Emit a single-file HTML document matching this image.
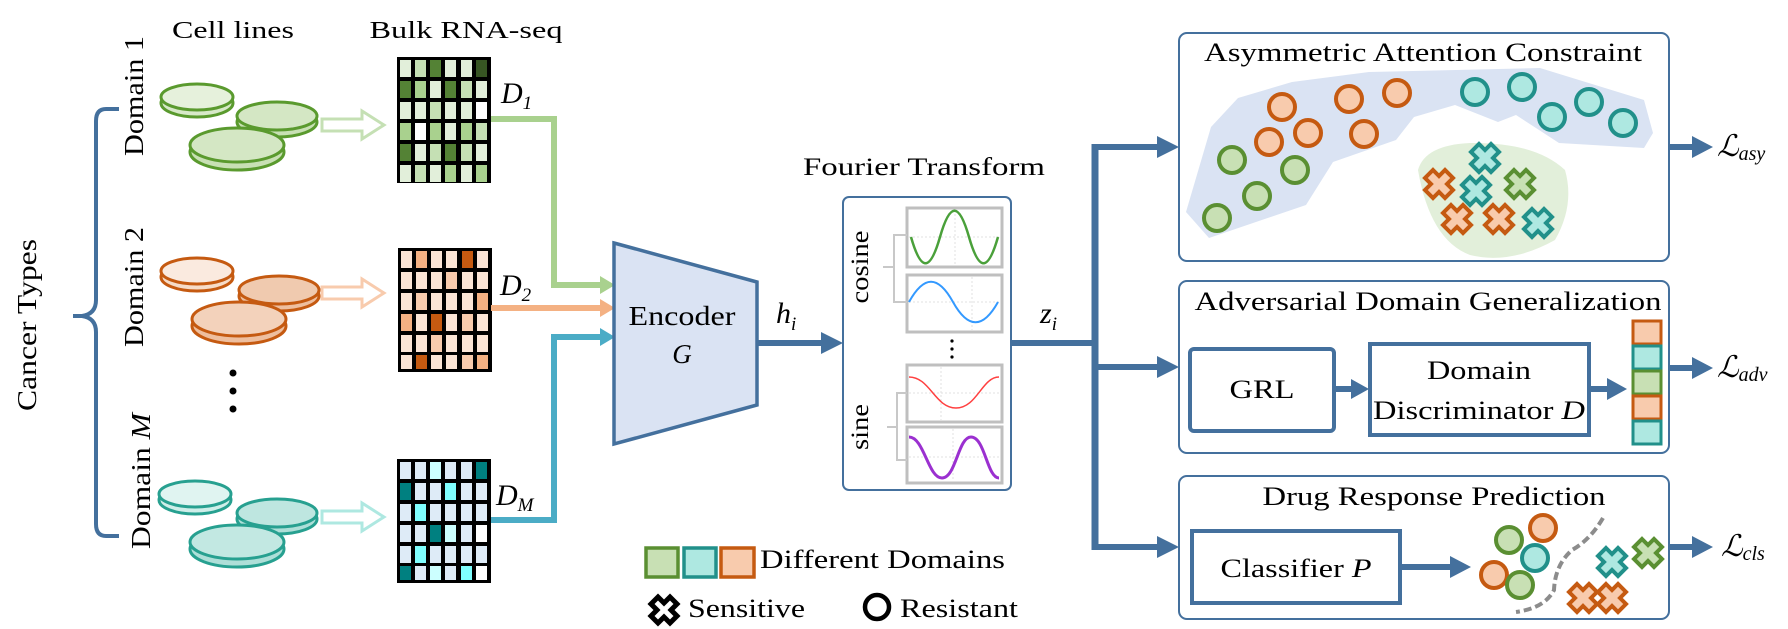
<!DOCTYPE html>
<html><head><meta charset="utf-8"><style>
html,body{margin:0;padding:0;background:#fff;}
svg{display:block;font-family:"Liberation Serif","Times New Roman","DejaVu Serif",serif;}
svg text{font-family:"Liberation Serif","Times New Roman","DejaVu Serif",serif;fill:#000;}
</style></head><body>
<svg width="1788" height="629" viewBox="0 0 1788 629" xmlns="http://www.w3.org/2000/svg" font-family="Liberation Serif, Times New Roman, DejaVu Serif, serif">

<!-- Headers -->
<text x="233" y="38" font-size="24" text-anchor="middle" textLength="122" lengthAdjust="spacingAndGlyphs">Cell lines</text>
<text x="466" y="38" font-size="24" text-anchor="middle" textLength="193" lengthAdjust="spacingAndGlyphs">Bulk RNA-seq</text>

<!-- Brace -->
<path d="M119,109 L106,109 Q96,109 96,121 L96,300 Q96,314 82,316 L73,316 L82,316 Q96,318 96,332 L96,524 Q96,536 106,536 L119,536" fill="none" stroke="#44709d" stroke-width="4"/>
<text transform="translate(36,325) rotate(-90)" font-size="27" text-anchor="middle" textLength="172" lengthAdjust="spacingAndGlyphs">Cancer Types</text>
<text transform="translate(143,96) rotate(-90)" font-size="27" text-anchor="middle" textLength="120" lengthAdjust="spacingAndGlyphs">Domain 1</text>
<text transform="translate(143,287) rotate(-90)" font-size="27" text-anchor="middle" textLength="120" lengthAdjust="spacingAndGlyphs">Domain 2</text>
<text transform="translate(150,481) rotate(-90)" font-size="27" text-anchor="middle" textLength="136" lengthAdjust="spacingAndGlyphs">Domain <tspan font-style="italic">M</tspan></text>

<!-- Dishes -->
<g stroke="#5a9a2e" stroke-width="3">
  <ellipse cx="197" cy="103" rx="36" ry="14" fill="#d7e9c8"/><ellipse cx="197" cy="97" rx="36" ry="13" fill="#e6f1dc"/>
  <ellipse cx="277" cy="122" rx="40" ry="15" fill="#c8e0b4"/><ellipse cx="277" cy="116" rx="40" ry="14" fill="#d4e7c4"/>
  <ellipse cx="237" cy="152" rx="47" ry="18" fill="#c8e0b4"/><ellipse cx="237" cy="145" rx="47" ry="17" fill="#d4e7c4"/>
</g>
<g stroke="#c55a11" stroke-width="3">
  <ellipse cx="197" cy="277" rx="36" ry="14" fill="#f6dcc8"/><ellipse cx="197" cy="271" rx="36" ry="13" fill="#faeadf"/>
  <ellipse cx="279" cy="296" rx="40" ry="15" fill="#eebf9f"/><ellipse cx="279" cy="290" rx="40" ry="14" fill="#f0caaf"/>
  <ellipse cx="239" cy="326" rx="47" ry="18" fill="#eebf9f"/><ellipse cx="239" cy="319" rx="47" ry="17" fill="#f3d2bb"/>
</g>
<g stroke="#27a090" stroke-width="3">
  <ellipse cx="195" cy="500" rx="36" ry="14" fill="#cfeee9"/><ellipse cx="195" cy="494" rx="36" ry="13" fill="#e0f4f1"/>
  <ellipse cx="277" cy="519" rx="40" ry="15" fill="#aedfd8"/><ellipse cx="277" cy="513" rx="40" ry="14" fill="#bee6e0"/>
  <ellipse cx="237" cy="549" rx="47" ry="18" fill="#aedfd8"/><ellipse cx="237" cy="542" rx="47" ry="17" fill="#c2e8e2"/>
</g>
<circle cx="233" cy="373" r="3.5" fill="#000"/><circle cx="233" cy="391" r="3.5" fill="#000"/><circle cx="233" cy="409" r="3.5" fill="#000"/>

<!-- hollow arrows -->
<path d="M322,119 H362 V111 L384,125 L362,139 V131 H322 Z" fill="#fff" stroke="#c5e0b4" stroke-width="3"/>
<path d="M322,287 H362 V279 L384,293 L362,307 V299 H322 Z" fill="#fff" stroke="#f8cbad" stroke-width="3"/>
<path d="M322,511 H362 V503 L384,517 L362,531 V523 H322 Z" fill="#fff" stroke="#aee8e1" stroke-width="3"/>

<!-- Matrices -->
<rect x="397" y="57" width="94" height="126" fill="#000"/>
<g transform="translate(397,57)">
<g fill="#e2efda">
<rect x="3" y="3" width="11" height="17"/><rect x="48" y="3" width="11" height="17"/><rect x="64" y="3" width="11" height="17"/>
<rect x="33" y="24" width="11" height="17"/><rect x="79" y="24" width="11" height="17"/>
<rect x="3" y="45" width="11" height="17"/><rect x="18" y="45" width="11" height="17"/><rect x="48" y="45" width="11" height="17"/><rect x="64" y="45" width="11" height="17"/>
<rect x="48" y="66" width="11" height="17"/>
<rect x="18" y="87" width="11" height="17"/><rect x="79" y="87" width="11" height="17"/>
<rect x="3" y="108" width="11" height="17"/><rect x="33" y="108" width="11" height="17"/><rect x="64" y="108" width="11" height="17"/>
</g>
<g fill="#c5e0b4">
<rect x="18" y="3" width="11" height="17"/><rect x="64" y="24" width="11" height="17"/><rect x="33" y="45" width="11" height="17"/>
<rect x="79" y="66" width="11" height="17"/><rect x="33" y="87" width="11" height="17"/><rect x="64" y="87" width="11" height="17"/><rect x="18" y="108" width="11" height="17"/>
</g>
<g fill="#a9d18e">
<rect x="18" y="24" width="11" height="17"/><rect x="3" y="66" width="11" height="17"/><rect x="33" y="66" width="11" height="17"/><rect x="64" y="66" width="11" height="17"/>
<rect x="48" y="108" width="11" height="17"/><rect x="79" y="108" width="11" height="17"/>
</g>
<g fill="#548235">
<rect x="33" y="3" width="11" height="17"/><rect x="3" y="24" width="11" height="17"/><rect x="48" y="24" width="11" height="17"/>
<rect x="3" y="87" width="11" height="17"/><rect x="48" y="87" width="11" height="17"/>
</g>
<rect x="79" y="3" width="11" height="17" fill="#375623"/>
<g fill="#fff"><rect x="79" y="45" width="11" height="17"/><rect x="18" y="66" width="11" height="17"/></g>
</g>

<rect x="398" y="248" width="94" height="124" fill="#000"/>
<g transform="translate(398,248)">
<g fill="#fbe5d6">
<rect x="3" y="3" width="11" height="17"/><rect x="33" y="3" width="11" height="17"/><rect x="48" y="3" width="11" height="17"/><rect x="79" y="3" width="11" height="17"/>
<rect x="3" y="24" width="11" height="17"/><rect x="18" y="24" width="11" height="17"/><rect x="33" y="24" width="11" height="17"/><rect x="64" y="24" width="11" height="17"/><rect x="79" y="24" width="11" height="17"/>
<rect x="3" y="45" width="11" height="17"/><rect x="33" y="45" width="11" height="17"/><rect x="48" y="45" width="11" height="17"/><rect x="64" y="45" width="11" height="17"/>
<rect x="18" y="66" width="11" height="17"/><rect x="48" y="66" width="11" height="17"/><rect x="79" y="66" width="11" height="17"/>
<rect x="3" y="87" width="11" height="17"/><rect x="18" y="87" width="11" height="17"/><rect x="48" y="87" width="11" height="17"/><rect x="64" y="87" width="11" height="17"/><rect x="79" y="87" width="11" height="17"/>
<rect x="3" y="107" width="11" height="14"/><rect x="33" y="107" width="11" height="14"/><rect x="48" y="107" width="11" height="14"/>
</g>
<g fill="#f8cbad">
<rect x="48" y="24" width="11" height="17"/><rect x="18" y="45" width="11" height="17"/><rect x="64" y="66" width="11" height="17"/><rect x="33" y="87" width="11" height="17"/><rect x="64" y="107" width="11" height="14"/>
</g>
<g fill="#f4b183">
<rect x="18" y="3" width="11" height="17"/><rect x="79" y="45" width="11" height="17"/><rect x="3" y="66" width="11" height="17"/><rect x="79" y="107" width="11" height="14"/>
</g>
<g fill="#c55a11">
<rect x="64" y="3" width="11" height="17"/><rect x="33" y="66" width="11" height="17"/><rect x="18" y="107" width="11" height="14"/>
</g>
</g>

<rect x="397" y="459" width="94" height="124" fill="#000"/>
<g transform="translate(397,459)">
<g fill="#deebf7">
<rect x="3" y="3" width="11" height="17"/><rect x="18" y="3" width="11" height="17"/><rect x="48" y="3" width="11" height="17"/><rect x="64" y="3" width="11" height="17"/>
<rect x="18" y="24" width="11" height="17"/><rect x="33" y="24" width="11" height="17"/><rect x="64" y="24" width="11" height="17"/><rect x="79" y="24" width="11" height="17"/>
<rect x="3" y="45" width="11" height="17"/><rect x="33" y="45" width="11" height="17"/><rect x="48" y="45" width="11" height="17"/><rect x="64" y="45" width="11" height="17"/><rect x="79" y="45" width="11" height="17"/>
<rect x="3" y="66" width="11" height="17"/><rect x="18" y="66" width="11" height="17"/><rect x="64" y="66" width="11" height="17"/>
<rect x="3" y="87" width="11" height="17"/><rect x="33" y="87" width="11" height="17"/><rect x="48" y="87" width="11" height="17"/><rect x="64" y="87" width="11" height="17"/><rect x="79" y="87" width="11" height="17"/>
<rect x="18" y="107" width="11" height="14"/><rect x="48" y="107" width="11" height="14"/>
</g>
<g fill="#ccffff"><rect x="33" y="3" width="11" height="17"/><rect x="48" y="66" width="11" height="17"/><rect x="33" y="107" width="11" height="14"/></g>
<g fill="#7fffff"><rect x="48" y="24" width="11" height="17"/><rect x="18" y="45" width="11" height="17"/><rect x="18" y="87" width="11" height="17"/><rect x="64" y="107" width="11" height="14"/></g>
<g fill="#008080"><rect x="79" y="3" width="11" height="17"/><rect x="3" y="24" width="11" height="17"/><rect x="33" y="66" width="11" height="17"/><rect x="3" y="107" width="11" height="14"/></g>
<g fill="#fff"><rect x="79" y="66" width="11" height="17"/><rect x="79" y="107" width="11" height="14"/></g>
</g>

<text x="501" y="103" font-size="30" font-style="italic">D<tspan font-size="19" dy="6">1</tspan></text>
<text x="500" y="295" font-size="30" font-style="italic">D<tspan font-size="19" dy="6">2</tspan></text>
<text x="496" y="505" font-size="30" font-style="italic">D<tspan font-size="19" dy="6">M</tspan></text>

<path d="M491,119 H554 V285 H602" fill="none" stroke="#a9d18e" stroke-width="6"/>
<path d="M600,276 L615,285 L600,294 Z" fill="#a9d18e"/>
<path d="M491,308 H602" fill="none" stroke="#f4b183" stroke-width="6"/>
<path d="M600,299 L615,308 L600,317 Z" fill="#f4b183"/>
<path d="M491,520 H554 V337 H602" fill="none" stroke="#4bacc6" stroke-width="6"/>
<path d="M600,328 L615,337 L600,346 Z" fill="#4bacc6"/>

<!-- Encoder -->
<path d="M614,243 L757,282 L757,405 L614,444 Z" fill="#dae3f3" stroke="#44709d" stroke-width="3.5"/>
<text x="682" y="325" font-size="27" text-anchor="middle" textLength="107" lengthAdjust="spacingAndGlyphs">Encoder</text>
<text x="682" y="363" font-size="27" font-style="italic" text-anchor="middle">G</text>

<path d="M757,343 H825" stroke="#44709d" stroke-width="6"/>
<path d="M821,332 L843,343 L821,354 Z" fill="#44709d"/>
<text x="776" y="323" font-size="30" font-style="italic">h<tspan font-size="19" dy="7">i</tspan></text>

<!-- Fourier -->
<text x="924" y="175" font-size="25" text-anchor="middle" textLength="242" lengthAdjust="spacingAndGlyphs">Fourier Transform</text>
<rect x="843" y="197" width="168" height="293" rx="6" fill="#fff" stroke="#44709d" stroke-width="2"/>
<g fill="none" stroke="#bfbfbf" stroke-width="3">
<rect x="907" y="208" width="95" height="59"/>
<rect x="907" y="275" width="95" height="57"/>
<rect x="907" y="365" width="95" height="57"/>
<rect x="907" y="427" width="95" height="56"/>
</g>
<g fill="none" stroke="#c8c8c8" stroke-width="2">
<path d="M907,235 H894 V302 H907 M894,267 H883"/>
<path d="M907,393 H897 V460 H907 M897,427 H887"/>
</g>
<g fill="none" stroke="#e0e0e0" stroke-width="1" stroke-dasharray="2,2">
<path d="M909,237 H1000 M955,210 V265 M909,302 H1000 M972,277 V330 M909,393 H1000 M941,367 V420 M909,457 H1000 M953,429 V481"/>
</g>
<path d="M911,237 C921,272 930,272 940,237 C950,202 959,202 969,237 C979,272 988,272 998,237" fill="none" stroke="#4aa03a" stroke-width="2.5"/>
<path d="M909,302 C924,275 938,275 953,302 C968,329 983,329 998,302" fill="none" stroke="#3399ff" stroke-width="2"/>
<path d="M909,377 C930,377 935,408 956,408 C977,408 982,377 999,377" fill="none" stroke="#ff4040" stroke-width="1.5"/>
<path d="M909,437 C924,437 928,478 942,478 C956,478 958,437 971,437 C985,437 987,478 999,478" fill="none" stroke="#9b30d0" stroke-width="3"/>
<circle cx="952" cy="341" r="1.6" fill="#000"/><circle cx="952" cy="349" r="1.6" fill="#000"/><circle cx="952" cy="357" r="1.6" fill="#000"/>
<text transform="translate(868,267) rotate(-90)" font-size="25" text-anchor="middle" textLength="73" lengthAdjust="spacingAndGlyphs">cosine</text>
<text transform="translate(868,427) rotate(-90)" font-size="25" text-anchor="middle" textLength="46" lengthAdjust="spacingAndGlyphs">sine</text>

<!-- z_i and bus -->
<path d="M1011,343 H1095" stroke="#44709d" stroke-width="6"/>
<text x="1040" y="323" font-size="30" font-style="italic">z<tspan font-size="19" dy="7">i</tspan></text>
<path d="M1095,144 V550" stroke="#44709d" stroke-width="7"/>
<g stroke="#44709d" stroke-width="6">
<path d="M1095,147 H1162"/><path d="M1095,367 H1162"/><path d="M1095,547 H1162"/>
</g>
<g fill="#44709d">
<path d="M1157,136 L1179,147 L1157,158 Z"/><path d="M1157,356 L1179,367 L1157,378 Z"/><path d="M1157,536 L1179,547 L1157,558 Z"/>
</g>

<!-- Box 1 -->
<rect x="1179" y="33" width="490" height="228" rx="8" fill="#fff" stroke="#44709d" stroke-width="2"/>
<text x="1423" y="61" font-size="26" text-anchor="middle" textLength="438" lengthAdjust="spacingAndGlyphs">Asymmetric Attention Constraint</text>
<path d="M1186,212 L1211,127 L1238,98 L1292,82 L1369,72 L1540,68 L1644,100 L1653,133 L1644,148 L1559,143 L1516,115 L1498,122 L1455,105 L1414,117 L1396,140 L1333,162 L1306,205 L1209,238 Z" fill="#dae3f3"/>
<path d="M1418,170 Q1425,145 1470,143 Q1535,142 1565,170 Q1575,205 1555,240 Q1510,265 1470,255 Q1430,240 1418,170 Z" fill="#e2efda"/>
<g stroke-width="4">
<g fill="#f8cbad" stroke="#c55a11">
<circle cx="1282" cy="107" r="13"/><circle cx="1349" cy="99" r="13"/><circle cx="1397" cy="93" r="13"/><circle cx="1269" cy="142" r="13"/><circle cx="1308" cy="133" r="13"/><circle cx="1364" cy="134" r="13"/>
</g>
<g fill="#aee8e1" stroke="#21908a">
<circle cx="1475" cy="92" r="13"/><circle cx="1522" cy="87" r="13"/><circle cx="1552" cy="117" r="13"/><circle cx="1589" cy="102" r="13"/><circle cx="1623" cy="123" r="13"/>
</g>
<g fill="#c8e0b4" stroke="#5a8f32">
<circle cx="1232" cy="160" r="13"/><circle cx="1295" cy="170" r="13"/><circle cx="1257" cy="196" r="13"/><circle cx="1217" cy="218" r="13"/>
</g>
</g>
<g stroke-width="4">
<g fill="#aee8e1" stroke="#21908a">
<path transform="translate(1485,158)" d="M-6,-14 L0,-8 L6,-14 L14,-6 L8,0 L14,6 L6,14 L0,8 L-6,14 L-14,6 L-8,0 L-14,-6 Z"/>
<path transform="translate(1476,191)" d="M-6,-14 L0,-8 L6,-14 L14,-6 L8,0 L14,6 L6,14 L0,8 L-6,14 L-14,6 L-8,0 L-14,-6 Z"/>
<path transform="translate(1538,223)" d="M-6,-14 L0,-8 L6,-14 L14,-6 L8,0 L14,6 L6,14 L0,8 L-6,14 L-14,6 L-8,0 L-14,-6 Z"/>
</g>
<g fill="#f8cbad" stroke="#c55a11">
<path transform="translate(1439,184)" d="M-6,-14 L0,-8 L6,-14 L14,-6 L8,0 L14,6 L6,14 L0,8 L-6,14 L-14,6 L-8,0 L-14,-6 Z"/>
<path transform="translate(1457,219)" d="M-6,-14 L0,-8 L6,-14 L14,-6 L8,0 L14,6 L6,14 L0,8 L-6,14 L-14,6 L-8,0 L-14,-6 Z"/>
<path transform="translate(1499,219)" d="M-6,-14 L0,-8 L6,-14 L14,-6 L8,0 L14,6 L6,14 L0,8 L-6,14 L-14,6 L-8,0 L-14,-6 Z"/>
</g>
<g fill="#c8e0b4" stroke="#5a8f32">
<path transform="translate(1520,184)" d="M-6,-14 L0,-8 L6,-14 L14,-6 L8,0 L14,6 L6,14 L0,8 L-6,14 L-14,6 L-8,0 L-14,-6 Z"/>
</g>
</g>

<!-- Box 2 -->
<rect x="1179" y="281" width="490" height="172" rx="8" fill="#fff" stroke="#44709d" stroke-width="2"/>
<text x="1428" y="310" font-size="26" text-anchor="middle" textLength="467" lengthAdjust="spacingAndGlyphs">Adversarial Domain Generalization</text>
<rect x="1190" y="349" width="144" height="82" rx="4" fill="#fff" stroke="#44709d" stroke-width="4"/>
<text x="1262" y="398" font-size="26" text-anchor="middle" textLength="65" lengthAdjust="spacingAndGlyphs">GRL</text>
<path d="M1335,389 H1355" stroke="#44709d" stroke-width="6"/>
<path d="M1351,379 L1369,389 L1351,399 Z" fill="#44709d"/>
<rect x="1370" y="344" width="219" height="91" fill="#fff" stroke="#44709d" stroke-width="4"/>
<text x="1479" y="379" font-size="26" text-anchor="middle" textLength="104" lengthAdjust="spacingAndGlyphs">Domain</text>
<text x="1479" y="419" font-size="26" text-anchor="middle" textLength="212" lengthAdjust="spacingAndGlyphs">Discriminator <tspan font-style="italic">D</tspan></text>
<path d="M1591,389 H1612" stroke="#44709d" stroke-width="6"/>
<path d="M1607,378 L1627,389 L1607,400 Z" fill="#44709d"/>
<g stroke-width="3">
<rect x="1633" y="321" width="28" height="23" fill="#f8cbad" stroke="#c55a11"/>
<rect x="1633" y="346" width="28" height="23" fill="#aee8e1" stroke="#21908a"/>
<rect x="1633" y="371" width="28" height="23" fill="#c8e0b4" stroke="#5a8f32"/>
<rect x="1633" y="396" width="28" height="23" fill="#f8cbad" stroke="#c55a11"/>
<rect x="1633" y="421" width="28" height="23" fill="#aee8e1" stroke="#21908a"/>
</g>

<!-- Box 3 -->
<rect x="1179" y="476" width="490" height="143" rx="8" fill="#fff" stroke="#44709d" stroke-width="2"/>
<text x="1434" y="505" font-size="26" text-anchor="middle" textLength="343" lengthAdjust="spacingAndGlyphs">Drug Response Prediction</text>
<rect x="1192" y="531" width="208" height="72" fill="#fff" stroke="#44709d" stroke-width="4"/>
<text x="1296" y="577" font-size="26" text-anchor="middle" textLength="151" lengthAdjust="spacingAndGlyphs">Classifier <tspan font-style="italic">P</tspan></text>
<path d="M1402,567 H1456" stroke="#44709d" stroke-width="6"/>
<path d="M1450,556 L1471,567 L1450,578 Z" fill="#44709d"/>
<path d="M1603,518 Q1590,540 1572,550 Q1555,565 1554,590 Q1545,608 1516,612" fill="none" stroke="#8c8c8c" stroke-width="4" stroke-dasharray="8,4"/>
<g stroke-width="4">
<circle cx="1509" cy="540" r="13" fill="#c8e0b4" stroke="#5a8f32"/>
<circle cx="1543" cy="528" r="13" fill="#f8cbad" stroke="#c55a11"/>
<circle cx="1535" cy="558" r="13" fill="#aee8e1" stroke="#21908a"/>
<circle cx="1494" cy="575" r="13" fill="#f8cbad" stroke="#c55a11"/>
<circle cx="1520" cy="585" r="13" fill="#c8e0b4" stroke="#5a8f32"/>
</g>
<g stroke-width="4">
<path transform="translate(1612,562)" fill="#aee8e1" stroke="#21908a" d="M-6,-14 L0,-8 L6,-14 L14,-6 L8,0 L14,6 L6,14 L0,8 L-6,14 L-14,6 L-8,0 L-14,-6 Z"/>
<path transform="translate(1648,553)" fill="#c8e0b4" stroke="#5a8f32" d="M-6,-14 L0,-8 L6,-14 L14,-6 L8,0 L14,6 L6,14 L0,8 L-6,14 L-14,6 L-8,0 L-14,-6 Z"/>
<path transform="translate(1583,598)" fill="#f8cbad" stroke="#c55a11" d="M-6,-14 L0,-8 L6,-14 L14,-6 L8,0 L14,6 L6,14 L0,8 L-6,14 L-14,6 L-8,0 L-14,-6 Z"/>
<path transform="translate(1612,598)" fill="#f8cbad" stroke="#c55a11" d="M-6,-14 L0,-8 L6,-14 L14,-6 L8,0 L14,6 L6,14 L0,8 L-6,14 L-14,6 L-8,0 L-14,-6 Z"/>
</g>

<!-- Loss arrows -->
<g stroke="#44709d" stroke-width="6"><path d="M1669,147 H1696"/><path d="M1669,368 H1696"/><path d="M1669,547 H1696"/></g>
<g fill="#44709d">
<path d="M1692,136 L1713,147 L1692,158 Z"/><path d="M1692,357 L1713,368 L1692,379 Z"/><path d="M1692,536 L1713,547 L1692,558 Z"/>
</g>
<text x="1717" y="156" font-size="30" font-style="italic">ℒ<tspan font-size="20" dy="4">asy</tspan></text>
<text x="1717" y="377" font-size="30" font-style="italic">ℒ<tspan font-size="20" dy="4">adv</tspan></text>
<text x="1721" y="556" font-size="30" font-style="italic">ℒ<tspan font-size="20" dy="4">cls</tspan></text>

<!-- Legend -->
<g stroke-width="3.5">
<rect x="646" y="548" width="32" height="29" fill="#c8e0b4" stroke="#5a8f32"/>
<rect x="684" y="548" width="32" height="29" fill="#aee8e1" stroke="#21908a"/>
<rect x="721" y="548" width="33" height="29" fill="#f8cbad" stroke="#c55a11"/>
</g>
<text x="760" y="568" font-size="26" textLength="245" lengthAdjust="spacingAndGlyphs">Different Domains</text>
<path transform="translate(664,610)" fill="#fff" stroke="#000" stroke-width="5" d="M-6,-13 L0,-7 L6,-13 L13,-6 L7,0 L13,6 L6,13 L0,7 L-6,13 L-13,6 L-7,0 L-13,-6 Z"/>
<text x="688" y="617" font-size="26" textLength="117" lengthAdjust="spacingAndGlyphs">Sensitive</text>
<circle cx="877" cy="607" r="12" fill="#fff" stroke="#000" stroke-width="4.5"/>
<text x="900" y="617" font-size="26" textLength="118" lengthAdjust="spacingAndGlyphs">Resistant</text>
</svg>
</body></html>
